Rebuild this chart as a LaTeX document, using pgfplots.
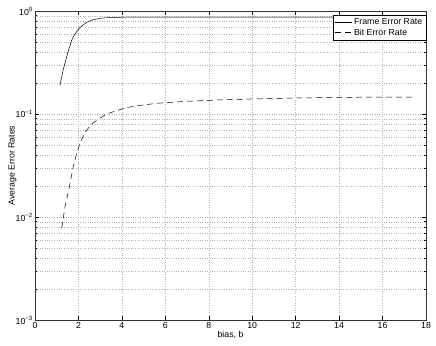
\documentclass[border=0pt]{standalone}
\usepackage{fontspec}
\setmainfont{Liberation Sans}
\usepackage{pgfplots}
\pgfplotsset{compat=1.18}
\begin{document}
\fontsize{8.8}{10}\selectfont
\begin{tikzpicture}
\begin{axis}[
  scale only axis,
  width=391bp, height=309bp,
  xmin=0, xmax=18,
  ymode=log, ymin=1e-3, ymax=1,
  xtick={0,2,...,18},
  ytick={1e-3,1e-2,1e-1,1},
  yticklabels={10\textsuperscript{−3},10\textsuperscript{−2},10\textsuperscript{−1},10\textsuperscript{0}},
  /pgf/number format/assume math mode=true,
  tick align=inside,
  tick style={black, line width=0.5pt},
  major tick length=4pt,
  minor tick length=2pt,
  xmajorgrids, ymajorgrids, yminorgrids,
  major grid style={dotted, gray!60},
  minor grid style={dotted, gray!60},
  axis line style={line width=0.7pt, black!80},
  xlabel={bias, b},
  ylabel={Average Error Rates},
  xlabel style={yshift=3pt},
  ylabel style={yshift=-7pt},
  xticklabel style={yshift=1pt},
  yticklabel style={xshift=1pt},
  ticklabel style={font=\fontsize{8.8}{10}\selectfont},
  label style={font=\fontsize{8.8}{10}\selectfont},
  legend style={at={(1,0.988)}, anchor=north east, font=\fontsize{8.8}{10}\selectfont,
    draw=black, line width=0.5pt, inner sep=1.5pt, row sep=-1pt},
  legend cell align=left,
]
\addplot[black, line width=0.5pt] coordinates {
  (1.15,0.19) (1.3,0.27) (1.46,0.36) (1.58,0.44) (1.69,0.52) (1.8,0.58) (1.92,0.63)
  (2.05,0.685) (2.2,0.73) (2.4,0.78) (2.67,0.82) (3.0,0.85) (3.45,0.865)
  (4.0,0.87) (5,0.872) (8,0.873) (12,0.873) (17.5,0.873)
};
\addlegendentry{Frame Error Rate}
\addplot[black, line width=0.5pt, dash pattern=on 6pt off 4pt] coordinates {
  (1.23,0.0078) (1.38,0.0125) (1.58,0.0195) (1.76,0.0306) (1.92,0.0418) (2.10,0.0538)
  (2.3,0.066) (2.53,0.0765) (2.75,0.084) (2.99,0.0915) (3.36,0.101) (3.82,0.109)
  (4.28,0.116) (4.8,0.121) (5.61,0.127) (7,0.133) (8.5,0.137) (10,0.14) (12,0.143)
  (14,0.145) (16,0.146) (17.5,0.146)
};
\addlegendentry{Bit Error Rate}
\end{axis}
\path (current axis.south west) ++(-35bp,-26bp) (current axis.north east) ++(10bp,11bp);
\end{tikzpicture}
\end{document}
